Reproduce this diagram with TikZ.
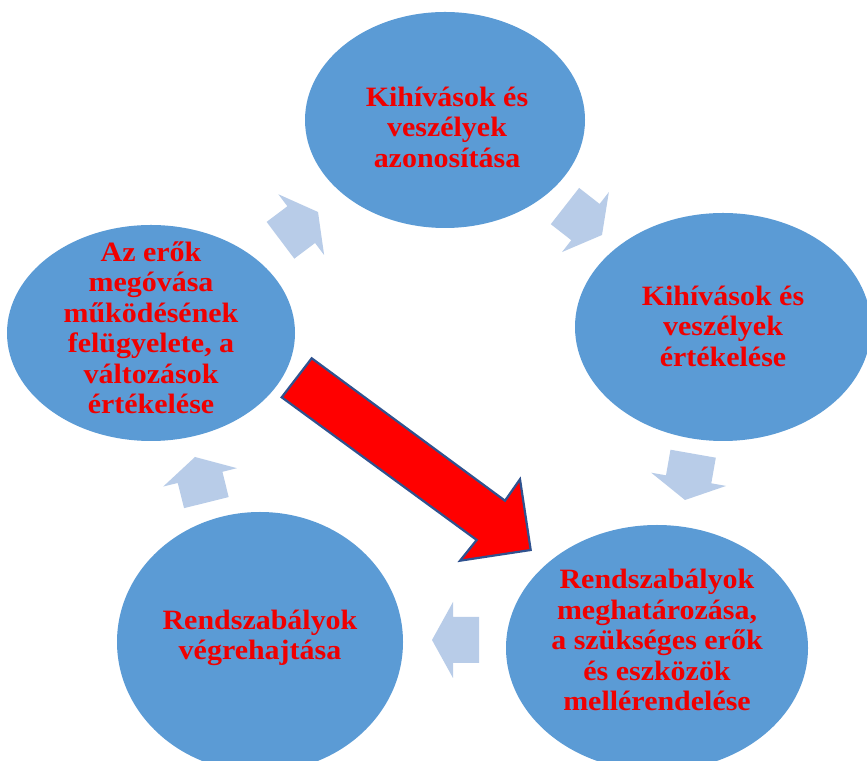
\documentclass[tikz,border=0pt]{standalone}
\usepackage{fontspec}
\setmainfont{Liberation Serif}
\usetikzlibrary{shapes.geometric}

\definecolor{cyclefill}{RGB}{91,155,213}
\definecolor{paleblue}{RGB}{184,204,232}
\definecolor{arrowedge}{RGB}{47,82,143}
\definecolor{labelred}{RGB}{240,0,0}

\tikzset{
  stage/.style={ellipse, fill=cyclefill, draw=none, inner sep=0pt},
  stagetext/.style={align=center, text=labelred, xscale=1.07, transform shape,
    font=\fontsize{28}{30.5}\selectfont\bfseries},
  cyclearrow/.style={fill=paleblue, draw=none},
}

% block arrow pointing along +x with its tip at the origin
\newcommand{\cyclearrowshape}{%
  (0,0) -- (-21,38) -- (-21,23) -- (-47,23) -- (-47,-23)
  -- (-21,-23) -- (-21,-38) -- cycle}

\begin{document}
\begin{tikzpicture}[x=1pt, y=1pt]
  \useasboundingbox (0,0) rectangle (867,760);
  \fill[white] (0,0) rectangle (867,760);
  \clip (0,0) rectangle (867,760);

  % the five stages of the cycle
  \node[stage, minimum width=280pt, minimum height=216pt] (top)   at (445,640) {};
  \node[stage, minimum width=296pt, minimum height=228pt] (right) at (723,433) {};
  \node[stage, minimum width=302pt, minimum height=246pt] (botr)  at (657,112) {};
  \node[stage, minimum width=286pt, minimum height=260pt] (botl)  at (260,118) {};
  \node[stage, minimum width=288pt, minimum height=216pt] (left)  at (151,427) {};

  \node[stagetext] (ttop) at (447,633)
    {Kihívások és\\veszélyek\\azonosítása};
  \node[stagetext] (tright) at (723,434)
    {Kihívások és\\veszélyek\\értékelése};
  \node[stagetext] (tbotr) at (657,120)
    {Rendszabályok\\meghatározása,\\a szükséges erők\\és eszközök\\mellérendelése};
  \node[stagetext] (tbotl) at (260,122)
    {Rendszabályok\\végrehajtása};
  \node[stagetext] (tleft) at (151,432)
    {Az erők\\megóvása\\működésének\\felügyelete, a\\változások\\értékelése};

  % pale arrows running clockwise between the stages
  \begin{scope}[shift={(318,548)}, rotate=37]
    \fill[cyclearrow] \cyclearrowshape;
  \end{scope}
  \begin{scope}[shift={(602,525)}, rotate=-38]
    \fill[cyclearrow] \cyclearrowshape;
  \end{scope}
  \begin{scope}[shift={(685,260)}, rotate=-100]
    \fill[cyclearrow] \cyclearrowshape;
  \end{scope}
  \begin{scope}[shift={(432,120)}, rotate=180]
    \fill[cyclearrow] \cyclearrowshape;
  \end{scope}
  \begin{scope}[shift={(195,303)}, rotate=104]
    \fill[cyclearrow] \cyclearrowshape;
  \end{scope}

  % large red arrow across the cycle
  \draw[fill=red, draw=arrowedge, line width=2.2pt, line join=miter]
    (311.7,401.7) -- (505,259.3) -- (520,280.7) -- (530.7,210)
    -- (460,199.3) -- (476.7,220) -- (281.7,362.7) -- cycle;
\end{tikzpicture}
\end{document}
